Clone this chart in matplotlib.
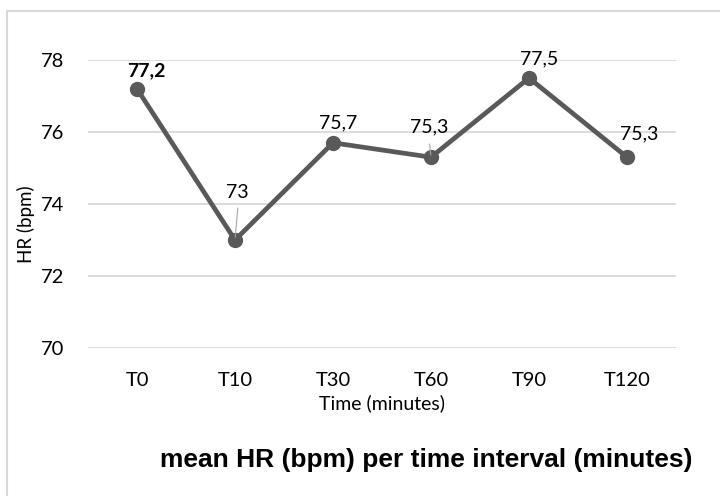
import matplotlib
matplotlib.use("Agg")
import matplotlib.pyplot as plt
from matplotlib.patches import Rectangle

# mean heart rate per time point
times = ["T0", "T10", "T30", "T60", "T90", "T120"]
hr = [77.2, 73, 75.7, 75.3, 77.5, 75.3]
labels = ["77,2", "73", "75,7", "75,3", "77,5", "75,3"]
yticks = [70, 72, 74, 76, 78]

line_col = "#595959"
grid_col = "#d9d9d9"
body_font = "Lato"

fig = plt.figure(figsize=(7.2, 4.96), dpi=100)
W, H = 720, 496

# outer chart frame (runs off the right/bottom edge)
fig.patches.append(Rectangle((7 / W, -0.1), 1.2, 1 - 11 / H + 0.1,
                             transform=fig.transFigure, fill=False,
                             edgecolor=grid_col, linewidth=1.5))

ax = fig.add_axes([88 / W, 1 - 348 / H, 588 / W, 288 / H])
x = range(len(times))
ax.plot(x, hr, color=line_col, linewidth=3.4, marker="o", markersize=10,
        solid_capstyle="round", zorder=3)

ax.set_xlim(-0.5, len(times) - 0.5)
ax.set_ylim(70, 78)
ax.set_yticks(yticks)
ax.set_xticks(list(x))
ax.set_xticklabels(times)
ax.yaxis.grid(True, color=grid_col, linewidth=1.3)
ax.set_axisbelow(True)
for s in ax.spines.values():
    s.set_visible(False)
ax.tick_params(length=0, labelsize=14.5, colors="#000000", pad=17)
ax.tick_params(axis="y", pad=17)
for t in ax.get_xticklabels() + ax.get_yticklabels():
    t.set_fontfamily(body_font)

ax.set_xlabel("Time (minutes)", fontsize=14, family=body_font, labelpad=4)
ax.set_ylabel("HR (bpm)", fontsize=13.5, family=body_font)
ax.yaxis.set_label_coords(-0.09, 0.43)

# data labels, offsets in points
offsets = [(7, 13), (2, 34), (3.6, 14), (-1, 22), (7, 14), (9, 16.5)]
for i, (v, lab, off) in enumerate(zip(hr, labels, offsets)):
    ax.annotate(lab, (i, v), xytext=off, textcoords="offset points",
                ha="center", va="center", fontsize=14, family=body_font,
                fontweight="bold" if i == 0 else "normal")

# leader lines for the two labels that sit away from their points
for i, d in [(1, (2, 23, 2)), (3, (-1, 9.5, 1.5))]:
    ax.annotate("", (i, hr[i]), xytext=(d[0], d[1]), textcoords="offset points",
                arrowprops=dict(arrowstyle="-", color="#a6a6a6", lw=0.8,
                                shrinkA=0, shrinkB=d[2]))

fig.text(426 / W, 1 - 467 / H, "mean HR (bpm) per time interval (minutes)",
         ha="center", va="baseline", fontsize=19, fontweight="bold",
         family="Liberation Sans")

fig.savefig("out.png", dpi=100)
